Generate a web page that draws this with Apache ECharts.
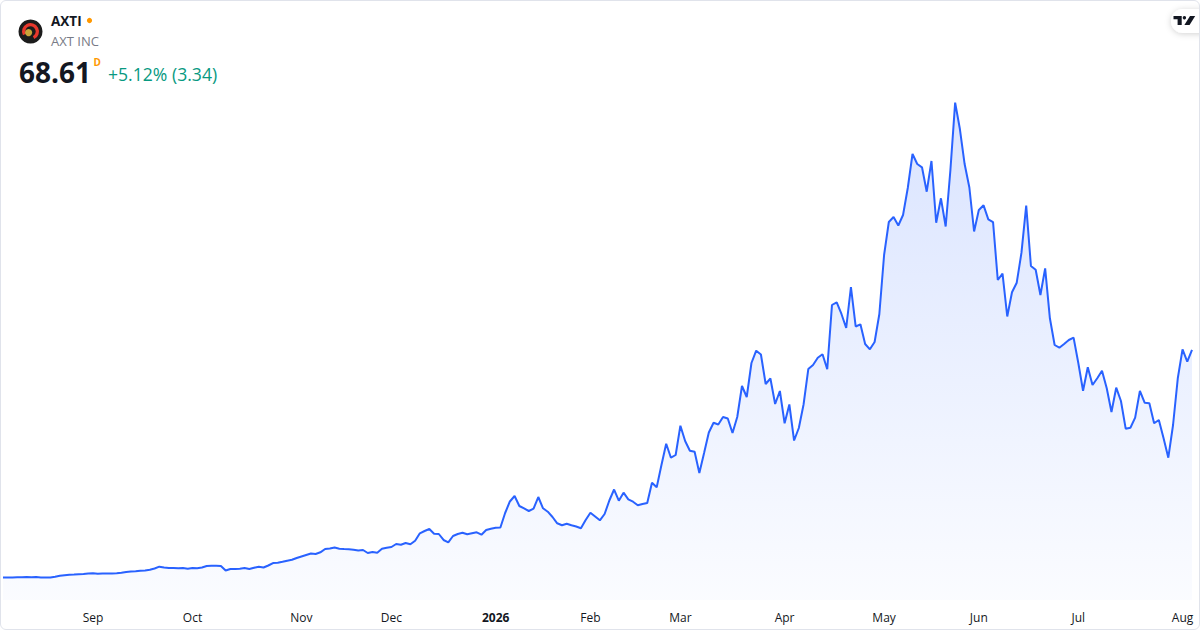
<!DOCTYPE html>
<html>
<head>
<meta charset="utf-8">
<script src="https://cdn.jsdelivr.net/npm/echarts@6/dist/echarts.min.js"></script>
<style>
  html, body { margin: 0; padding: 0; background: #ffffff; }
  #wrap { position: relative; width: 1200px; height: 630px; }
  #chart { position: absolute; left: 0; top: 0; width: 1200px; height: 630px; }
  #frame { position: absolute; left: 0; top: 0; width: 1200px; height: 630px; box-sizing: border-box;
           border: 1px solid #e0e3eb; border-radius: 6px; pointer-events: none; }
</style>
</head>
<body>
<div id="wrap"><div id="chart"></div><div id="frame"></div></div>
<script>
// ---- data ----
const ticker = 'AXTI';
const companyName = 'AXT INC';
const lastPrice = '68.61';
const changeText = '+5.12% (3.34)';
const monthNames = ['Jan','Feb','Mar','Apr','May','Jun','Jul','Aug','Sep','Oct','Nov','Dec'];
const holidays = ['2025-09-01','2025-11-27','2025-12-25','2026-01-01','2026-01-19','2026-02-16',
                  '2026-04-03','2026-05-25','2026-06-19','2026-07-03'];
const firstDay = '2025-08-05';
const lastDay = '2026-08-05';
// daily closes (one per trading day)
const closes = [
  3.57,3.57,3.57,3.63,3.66,3.71,3.66,3.71,3.57,3.54,
  3.57,3.77,4.06,4.23,4.34,4.40,4.49,4.57,4.71,4.80,
  4.63,4.71,4.71,4.74,4.80,4.91,5.14,5.29,5.34,5.49,
  5.57,5.77,6.14,6.66,6.43,6.29,6.29,6.20,6.29,6.06,
  6.29,6.20,6.43,6.86,6.94,6.94,6.86,5.57,6.00,6.00,
  6.09,6.29,6.00,6.34,6.63,6.43,7.00,7.71,7.77,8.06,
  8.37,8.63,9.14,9.57,10.00,10.43,10.29,10.77,11.71,11.86,
  12.14,11.80,11.71,11.66,11.49,11.29,11.43,10.57,10.86,10.66,
  11.80,12.09,12.29,13.14,12.94,13.43,13.06,14.09,16.20,16.86,
  17.43,16.09,16.00,14.29,13.63,15.43,16.00,16.37,15.91,16.20,
  16.49,15.80,17.14,17.51,17.80,17.86,22.00,25.29,26.86,24.00,
  23.29,22.57,23.23,26.57,23.34,22.37,20.86,19.06,18.49,18.94,
  18.49,18.14,17.66,20.00,22.09,21.00,19.91,21.71,25.57,28.71,
  25.51,27.80,25.91,25.23,24.20,24.57,24.86,30.66,29.34,35.71,
  41.80,37.80,38.57,46.94,42.57,39.80,39.51,33.43,39.14,45.00,
  47.77,47.29,49.43,49.00,44.86,49.43,58.29,55.14,64.86,68.37,
  67.29,58.86,60.43,53.14,56.86,47.63,53.00,42.71,46.29,53.00,
  63.14,64.29,66.37,67.34,63.06,81.43,82.20,78.86,74.86,86.57,
  75.29,75.91,70.29,68.77,70.86,78.86,95.71,105.14,106.57,104.14,
  107.14,114.86,124.57,121.71,120.77,113.80,122.57,104.94,111.91,103.86,
  120.00,139.23,131.71,121.71,115.00,102.43,108.57,109.91,105.91,105.14,
  88.57,90.37,78.14,85.06,87.80,96.37,109.80,92.57,91.51,84.29,
  91.91,77.63,70.00,69.23,70.29,71.43,72.09,64.86,56.94,63.63,
  58.57,60.49,62.66,57.63,50.86,57.80,54.00,46.09,46.37,49.23,
  56.86,53.51,53.34,47.63,48.57,43.34,37.80,47.14,60.49,68.77,
  65.27,68.61
];

// ---- trading-day categories ----
function iso(d) {
  const m = String(d.getUTCMonth() + 1).padStart(2, '0');
  const dd = String(d.getUTCDate()).padStart(2, '0');
  return d.getUTCFullYear() + '-' + m + '-' + dd;
}
const dates = [];
{
  const d = new Date(firstDay + 'T00:00:00Z');
  const end = new Date(lastDay + 'T00:00:00Z');
  while (d <= end) {
    const wd = d.getUTCDay();
    const s = iso(d);
    if (wd !== 0 && wd !== 6 && holidays.indexOf(s) < 0) dates.push(s);
    d.setUTCDate(d.getUTCDate() + 1);
  }
}
function isMonthStart(i) {
  if (i === 0) return false;
  return dates[i].slice(5, 7) !== dates[i - 1].slice(5, 7);
}
function tickLabel(i) {
  const y = dates[i].slice(0, 4);
  const m = parseInt(dates[i].slice(5, 7), 10) - 1;
  return m === 0 ? '{yr|' + y + '}' : monthNames[m];
}

const FONT = '"Open Sans", "Noto Sans", sans-serif';
const chart = echarts.init(document.getElementById('chart'), null, { renderer: 'svg' });

chart.setOption({
  animation: false,
  backgroundColor: '#ffffff',
  grid: { left: 3, right: 8, top: 30, bottom: 30 },
  xAxis: {
    type: 'category',
    data: dates,
    boundaryGap: false,
    axisLine: { show: false },
    axisTick: { show: false },
    splitLine: { show: false },
    axisLabel: {
      interval: function (i) { return isMonthStart(i); },
      formatter: function (v, i) { return tickLabel(i); },
      color: '#131722',
      fontSize: 12,
      fontFamily: FONT,
      margin: 11,
      rich: { yr: { fontWeight: 'bold', fontSize: 12, color: '#131722', fontFamily: FONT } }
    }
  },
  yAxis: {
    type: 'value',
    min: -20 / 7,
    max: 160,
    show: false,
    splitLine: { show: false }
  },
  series: [{
    type: 'line',
    data: closes,
    symbol: 'none',
    silent: true,
    lineStyle: { color: '#2962FF', width: 2 },
    areaStyle: {
      origin: 'start',
      color: new echarts.graphic.LinearGradient(0, 0, 0, 1, [
        { offset: 0, color: 'rgba(41,98,255,0.25)' },
        { offset: 1, color: 'rgba(41,98,255,0.03)' }
      ])
    }
  }],
  graphic: [
    { type: 'circle', shape: { cx: 30.5, cy: 31.5, r: 12 }, style: { fill: '#1c1c1c' } },
    { type: 'sector', shape: { cx: 30.5, cy: 31.5, r: 8.5, r0: 5.2, startAngle: Math.PI * 0.85, endAngle: Math.PI * 2.35, clockwise: true }, style: { fill: '#e8372c' } },
    { type: 'circle', shape: { cx: 28.6, cy: 32.6, r: 3.6 }, style: { fill: '#c9a43a' } },
    { type: 'text', x: 51, y: 21, style: { text: ticker, font: 'bold 13.5px ' + FONT, fill: '#131722', verticalAlign: 'middle' } },
    { type: 'circle', shape: { cx: 89.5, cy: 20.5, r: 2.6 }, style: { fill: '#ff9800' } },
    { type: 'text', x: 51, y: 41, style: { text: companyName, font: '13px ' + FONT, fill: '#787b86', verticalAlign: 'middle' } },
    { type: 'text', x: 19, y: 72, style: { text: lastPrice, font: 'bold 28px ' + FONT, fill: '#131722', verticalAlign: 'middle' } },
    { type: 'text', x: 93.5, y: 62, style: { text: 'D', font: 'bold 10px ' + FONT, fill: '#ff9800', verticalAlign: 'middle' } },
    { type: 'text', x: 108, y: 74, style: { text: changeText, font: '17.6px ' + FONT, fill: '#089981', verticalAlign: 'middle' } },
    { type: 'rect', shape: { x: 1171, y: 9, width: 44, height: 24, r: 12 }, style: { fill: '#ffffff', shadowBlur: 6, shadowColor: 'rgba(0,0,0,0.18)', shadowOffsetY: 1 } },
    { type: 'polygon', shape: { points: [[1173.5,16],[1181.7,16],[1181.7,25],[1177.6,25],[1177.6,19.3],[1173.5,19.3]] }, style: { fill: '#131722' } },
    { type: 'circle', shape: { cx: 1184.4, cy: 17.7, r: 1.7 }, style: { fill: '#131722' } },
    { type: 'polygon', shape: { points: [[1190,16],[1195.2,16],[1189.6,25],[1184.4,25]] }, style: { fill: '#131722' } }
  ]
});
</script>
</body>
</html>
